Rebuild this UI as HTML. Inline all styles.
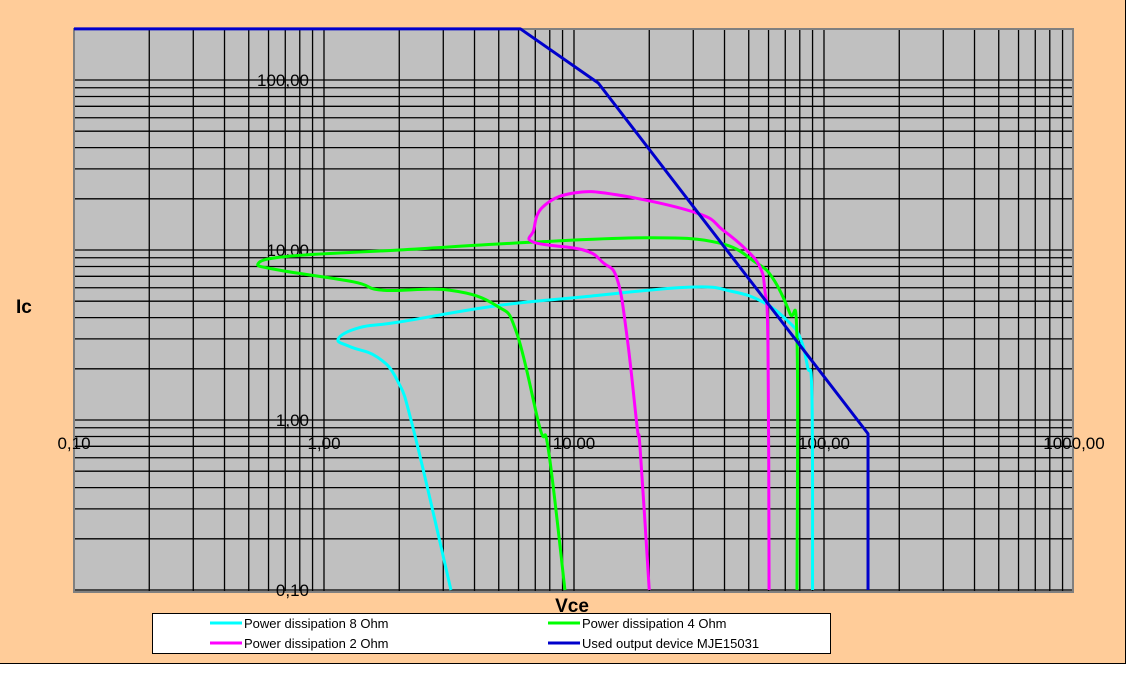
<!DOCTYPE html>
<html><head><meta charset="utf-8">
<style>
html,body{margin:0;padding:0;background:#fff;}
body{width:1144px;height:680px;overflow:hidden;position:relative;font-family:"Liberation Sans",Arial,sans-serif;}
#bg{position:absolute;left:0;top:0;width:1125px;height:663px;background:#FFCC99;border-right:1px solid #000;border-bottom:1px solid #000;}
svg{position:absolute;left:0;top:0;}
</style></head>
<body>
<div id="bg"></div>
<svg id="chart" width="1144" height="680"></svg>
<script>
// data arrays
const xTickValues = [0.1, 1, 10, 100, 1000];
const xTickLabels = ["0,10", "1,00", "10,00", "100,00", "1000,00"];
const yTickValues = [0.1, 1, 10, 100];
const yTickLabels = ["0,10", "1,00", "10,00", "100,00"];
const seriesNames = ["Power dissipation 8 Ohm", "Power dissipation 4 Ohm", "Power dissipation 2 Ohm", "Used output device MJE15031"];
const ohm8V = [3.22, 2.27, 1.96, 1.63, 1.27, 1.14, 1.39, 2.0, 4.9, 10.9, 29, 43, 57, 71, 80, 86, 89.5, 90];
const ohm8I = [0.1, 0.9, 1.72, 2.35, 2.7, 3.0, 3.5, 3.77, 4.7, 5.3, 6.05, 5.7, 4.94, 3.87, 3.08, 2.05, 1.36, 0.1];
const ohm4V = [9.2, 7.9, 7.3, 5.9, 4.9, 3.19, 1.72, 1.31, 0.667, 0.545, 0.73, 2.0, 6.7, 20, 38, 53, 62.5, 73, 78, 78];
const ohm4I = [0.1, 0.667, 0.9, 3.25, 4.7, 5.8, 5.8, 6.5, 7.6, 8.3, 9.2, 10, 11.1, 11.8, 11, 8.5, 6.8, 4.25, 2.95, 0.1];
const ohm2V = [20, 18.4, 17.9, 16.3, 14.9, 13.1, 10.9, 6.9, 6.9, 7.5, 9.9, 14.9, 31, 39.4, 49, 55.5, 58, 59.7, 60.3];
const ohm2I = [0.1, 0.667, 0.9, 3.08, 6.7, 8.4, 10, 11.1, 13.1, 17.9, 21.6, 21.1, 16.5, 13.1, 10, 7.9, 5.8, 2.7, 0.1];
const deviceV = [0.1, 6.1, 12.5, 150, 150];
const deviceI = [200, 200, 96, 0.83, 0.1];

const L=74, R=1073, T=29, B=592;
function xs(v){return L + 250*(Math.log10(v)+1);}
function ys(v){return 80 + 170*(2-Math.log10(v));}
const NS="http://www.w3.org/2000/svg";
const svg=document.getElementById('chart');
function mk(tag,attrs,parent){const e=document.createElementNS(NS,tag);for(const k in attrs)e.setAttribute(k,attrs[k]);(parent||svg).appendChild(e);return e;}

const plot=mk('rect',{x:L,y:T,width:R-L,height:B-T,fill:'#C0C0C0'});



const grid=mk('g',{stroke:'#000','stroke-width':1.3});


for(let d=0.1; d<1000; d*=10){
  for(let k=1;k<10;k++){
    const v=d*k; const x=xs(v);
    if(x>L+1 && x<R-1) mk('line',{x1:x,y1:T,x2:x,y2:B},grid);
  }
}
for(let d=0.1; d<=100; d*=10){
  for(let k=1;k<10;k++){
    const v=d*k; if(v>200.1) break; const y=ys(v);
    if(y>T+1 && y<B-1) mk('line',{x1:L,y1:y,x2:R,y2:y},grid);
  }
}
const frame=mk('rect',{x:L,y:T,width:R-L,height:B-T,fill:'none',stroke:'#808080','stroke-width':2});



function tx(str,x,y,anchor,size,weight,name){
  const t=mk('text',{x:x,y:y,'text-anchor':anchor,'font-size':size,'font-weight':weight||'normal',fill:'#000','font-family':'Liberation Sans, Arial, sans-serif'});
  t.textContent=str;
  
  
  return t;
}
xTickValues.forEach((v,i)=>{ tx(xTickLabels[i], xs(v), 449, 'middle', 17, 'normal', 'x-tick-label'); });
yTickValues.forEach((v,i)=>{ tx(yTickLabels[i], 309, ys(v)+6, 'end', 17, 'normal', 'y-tick-label'); });
tx('Ic',16,313,'start',19,'bold','y-axis-title');
tx('Vce',572,612,'middle',19,'bold','x-axis-title');

const colors=['#00FFFF','#00FF00','#FF00FF','#0000CC'];
const seriesV=[ohm8V,ohm4V,ohm2V,deviceV];
const seriesI=[ohm8I,ohm4I,ohm2I,deviceI];
const names=['series-8-ohm','series-4-ohm','series-2-ohm','series-mje15031'];
function smoothPath(pts){
  let d='M'+pts[0][0]+','+pts[0][1];
  for(let i=0;i<pts.length-1;i++){
    const p0=pts[Math.max(0,i-1)],p1=pts[i],p2=pts[i+1],p3=pts[Math.min(pts.length-1,i+2)];
    const t=0.2;
    const c1=[p1[0]+(p2[0]-p0[0])*t,p1[1]+(p2[1]-p0[1])*t];
    const c2=[p2[0]-(p3[0]-p1[0])*t,p2[1]-(p3[1]-p1[1])*t];
    d+=' C'+c1[0]+','+c1[1]+' '+c2[0]+','+c2[1]+' '+p2[0]+','+p2[1];
  }
  return d;
}
for(let s=0;s<4;s++){
  const pts=seriesV[s].map((v,i)=>[xs(v),ys(seriesI[s][i])]);
  const d = s===3 ? 'M'+pts.map(p=>p[0]+','+p[1]).join(' L') : smoothPath(pts);
  const p=mk('path',{d:d,fill:'none',stroke:colors[s],'stroke-width':3,'stroke-linejoin':'round'});
  
  
}

const lg=mk('g',{});


mk('rect',{x:152.5,y:613.5,width:678,height:40,fill:'#fff',stroke:'#000','stroke-width':1},lg);
const lx=[210,548,210,548], ly=[623,623,643,643];
const order=[0,1,2,3];
order.forEach((s,i)=>{
  const ln=mk('line',{x1:lx[i],y1:ly[i],x2:lx[i]+32,y2:ly[i],stroke:colors[s],'stroke-width':3},lg);
  
  
  const t=mk('text',{x:lx[i]+34,y:ly[i]+5,'font-size':13,fill:'#000','font-family':'Liberation Sans, Arial, sans-serif'},lg);
  t.textContent=seriesNames[s];
  
  
});
</script>
</body></html>
